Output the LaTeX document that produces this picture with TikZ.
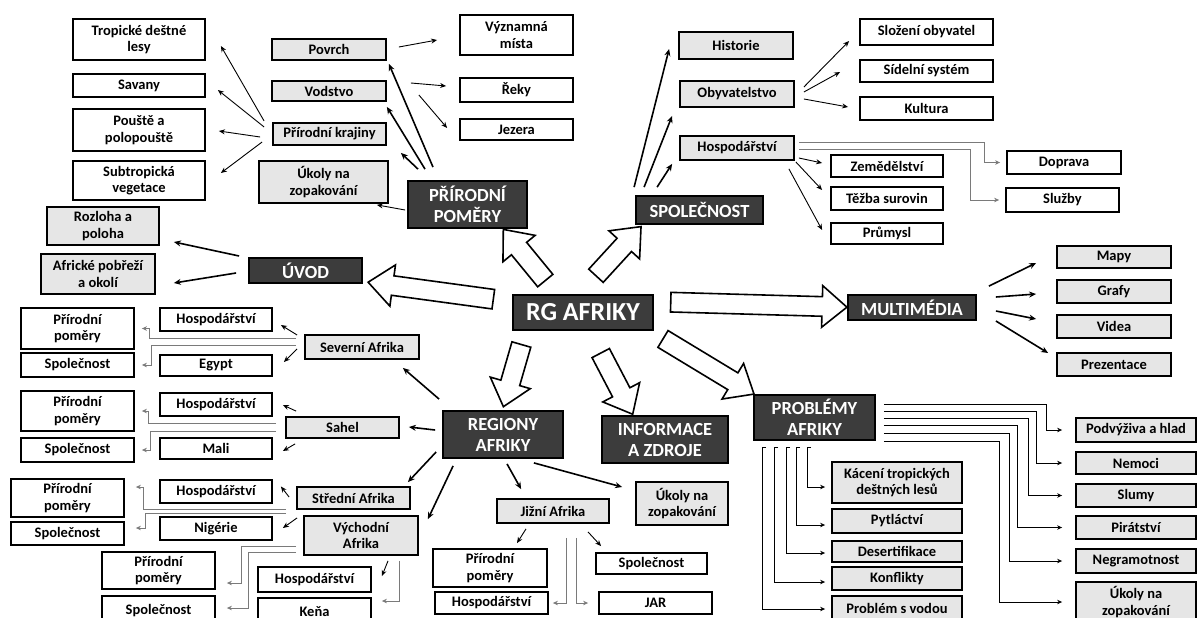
\documentclass[tikz,border=0pt]{standalone}
\usepackage{fontspec}
\setmainfont{Carlito}
\usetikzlibrary{arrows.meta,shapes.arrows,calc}
\definecolor{boxgray}{HTML}{E6E6E6}
\definecolor{darkbox}{HTML}{3C3C3C}
\definecolor{elbgray}{HTML}{7A7A7A}
\tikzset{
  box/.style={draw=black, line width=1.8pt, inner sep=1pt, align=center,
    font=\fontsize{14.5}{16.5}\selectfont\bfseries},
  wbox/.style={box, fill=white},
  gbox/.style={box, fill=boxgray},
  dbox/.style={box, fill=darkbox, text=white, font=\fontsize{18.5}{21}\selectfont\bfseries},
  arr/.style={-{Stealth[length=6pt,width=5pt]}, line width=0.9pt},
  arrb/.style={-{Stealth[length=7pt,width=6pt]}, line width=1.6pt},
  elb/.style={-{Stealth[length=5pt,width=4.5pt]}, line width=1pt, draw=elbgray},
  elbk/.style={elb, draw=black},
  fat/.style={single arrow, draw=black, line width=1.6pt, fill=white, inner xsep=0pt,
    inner ysep=9pt, single arrow head extend=11pt, single arrow tip angle=80}
}
\newcommand\fatarrow[2]{%
  \path let \p1=(#1), \p2=(#2), \n1={atan2(\y2-\y1,\x2-\x1)}, \n2={veclen(\x2-\x1,\y2-\y1)} in
    node[fat, minimum height=\n2, rotate=\n1] at ($(#1)!0.5!(#2)$) {};}
\begin{document}
\begin{tikzpicture}[x=1pt, y=-1pt]
\useasboundingbox (0,0) rectangle (1199,618);
% centre
\node[dbox, font=\fontsize{26}{30}\selectfont\bfseries, minimum width=140pt, minimum height=35pt] (rg) at (583,312.5) {RG AFRIKY};
% prirodni pomery
\node[dbox, minimum width=119pt, minimum height=47pt] (pp) at (467.5,204.5) {PŘÍRODNÍ\\POMĚRY};
\node[gbox, minimum width=114pt, minimum height=21pt] (povrch) at (329,49.5) {Povrch};
\node[gbox, minimum width=114pt, minimum height=20pt] (vod) at (329,91) {Vodstvo};
\node[gbox, minimum width=113pt, minimum height=22pt] (kraj) at (329.5,134) {Přírodní krajiny};
\node[gbox, minimum width=129pt, minimum height=42pt] (ukol1) at (323.5,182) {Úkoly na\\zopakování};
\node[wbox, minimum width=132pt, minimum height=41pt] (tdl) at (139,39.5) {Tropické deštné\\lesy};
\node[wbox, minimum width=132pt, minimum height=23pt] (sav) at (139,85.5) {Savany};
\node[wbox, minimum width=132pt, minimum height=42pt] (pou) at (139,130) {Pouště a\\polopouště};
\node[wbox, minimum width=132pt, minimum height=39pt] (sub) at (139,180.5) {Subtropická\\vegetace};
\node[wbox, minimum width=113pt, minimum height=40pt] (vyz) at (516.5,35) {Významná\\místa};
\node[wbox, minimum width=113pt, minimum height=24pt] (reky) at (516.5,90) {Řeky};
\node[wbox, minimum width=113pt, minimum height=21pt] (jez) at (516.5,129.5) {Jezera};
% spolecnost
\node[dbox, minimum width=127pt, minimum height=28pt] (spol) at (699.5,210) {SPOLEČNOST};
\node[gbox, minimum width=114pt, minimum height=27pt] (hist) at (736,45.5) {Historie};
\node[gbox, minimum width=114pt, minimum height=26pt] (obyv) at (737,94) {Obyvatelstvo};
\node[gbox, minimum width=114pt, minimum height=24pt] (hosp) at (737,148) {Hospodářství};
\node[wbox, minimum width=133pt, minimum height=26pt] (slo) at (926.5,32) {Složení obyvatel};
\node[wbox, minimum width=133pt, minimum height=22pt] (sid) at (926.5,71) {Sídelní systém};
\node[wbox, minimum width=133pt, minimum height=23pt] (kul) at (926.5,108.5) {Kultura};
\node[wbox, minimum width=112pt, minimum height=22pt] (zem) at (887,166) {Zemědělství};
\node[wbox, minimum width=112pt, minimum height=23pt] (tez) at (887,198.5) {Těžba surovin};
\node[wbox, minimum width=112pt, minimum height=21pt] (pru) at (887,233.5) {Průmysl};
\node[wbox, minimum width=114pt, minimum height=23pt] (dop) at (1064,162.5) {Doprava};
\node[wbox, minimum width=113pt, minimum height=24pt] (slu) at (1062.5,200) {Služby};
% uvod
\node[dbox, minimum width=113pt, minimum height=25pt] (uvod) at (305.5,270.5) {ÚVOD};
\node[gbox, minimum width=112pt, minimum height=38pt] (roz) at (103,226) {Rozloha a\\poloha};
\node[gbox, minimum width=114pt, minimum height=40pt] (pob) at (98,274) {Africké pobřeží\\a okolí};
% multimedia
\node[dbox, minimum width=128pt, minimum height=25pt] (mm) at (912,307.5) {MULTIMÉDIA};
\node[gbox, minimum width=114pt, minimum height=22pt] (mapy) at (1114,257) {Mapy};
\node[gbox, minimum width=114pt, minimum height=23pt] (grafy) at (1114,291.5) {Grafy};
\node[gbox, minimum width=114pt, minimum height=23pt] (videa) at (1114,326.5) {Videa};
\node[gbox, minimum width=114pt, minimum height=23pt] (prez) at (1114,364.5) {Prezentace};
% regiony
\node[dbox, minimum width=120pt, minimum height=47pt] (reg) at (503,434.5) {REGIONY\\AFRIKY};
\node[gbox, minimum width=114pt, minimum height=24pt] (sev) at (362,347) {Severní Afrika};
\node[wbox, minimum width=112pt, minimum height=23pt] (sevh) at (216,319.5) {Hospodářství};
\node[wbox, minimum width=112pt, minimum height=21pt] (egy) at (216,365.5) {Egypt};
\node[wbox, minimum width=113pt, minimum height=41pt] (sevp) at (77.5,328.5) {Přírodní\\poměry};
\node[wbox, minimum width=113pt, minimum height=24pt] (sevs) at (77.5,365) {Společnost};
\node[gbox, minimum width=113pt, minimum height=21pt] (sah) at (342.5,427.5) {Sahel};
\node[wbox, minimum width=112pt, minimum height=23pt] (sahh) at (216,404.5) {Hospodářství};
\node[wbox, minimum width=112pt, minimum height=21pt] (mali) at (216,448.5) {Mali};
\node[wbox, minimum width=113pt, minimum height=40pt] (sahp) at (77.5,411) {Přírodní\\poměry};
\node[wbox, minimum width=113pt, minimum height=24pt] (sahs) at (77.5,450) {Společnost};
\node[gbox, minimum width=113pt, minimum height=22pt] (str) at (353.5,498) {Střední Afrika};
\node[wbox, minimum width=112pt, minimum height=23pt] (strh) at (216,491.5) {Hospodářství};
\node[wbox, minimum width=112pt, minimum height=23pt] (nig) at (216,528.5) {Nigérie};
\node[wbox, minimum width=113pt, minimum height=38pt] (strp) at (67.5,498) {Přírodní\\poměry};
\node[wbox, minimum width=113pt, minimum height=23pt] (strs) at (67.5,533.5) {Společnost};
\node[gbox, minimum width=114pt, minimum height=39pt] (vych) at (361,535.5) {Východní\\Afrika};
\node[wbox, minimum width=113pt, minimum height=25pt] (vychh) at (314.5,579.5) {Hospodářství};
\node[wbox, minimum width=113pt, minimum height=27pt] (kena) at (314.5,611.5) {Keňa};
\node[wbox, minimum width=113pt, minimum height=37pt] (vychp) at (158.5,570.5) {Přírodní\\poměry};
\node[wbox, minimum width=113pt, minimum height=29pt] (vychs) at (158.5,610.5) {Společnost};
\node[gbox, minimum width=112pt, minimum height=24pt] (jiz) at (553,511) {Jižní Afrika};
\node[gbox, minimum width=92pt, minimum height=43pt] (ukol2) at (682,503.5) {Úkoly na\\zopakování};
\node[wbox, minimum width=114pt, minimum height=38pt] (jizp) at (490,568) {Přírodní\\poměry};
\node[wbox, minimum width=111pt, minimum height=21pt] (jizs) at (651.5,563.5) {Společnost};
\node[wbox, minimum width=113pt, minimum height=22pt] (jizh) at (491.5,603) {Hospodářství};
\node[wbox, minimum width=113pt, minimum height=22pt] (jar) at (655.5,603) {JAR};
% informace
\node[dbox, minimum width=126pt, minimum height=47pt] (info) at (665,439.5) {INFORMACE\\A ZDROJE};
% problemy
\node[dbox, minimum width=121pt, minimum height=45pt] (prob) at (814.5,417.5) {PROBLÉMY\\AFRIKY};
\node[gbox, minimum width=130pt, minimum height=41pt] (kac) at (897,482.5) {Kácení tropických\\deštných lesů};
\node[gbox, minimum width=130pt, minimum height=24pt] (pyt) at (897,521) {Pytláctví};
\node[gbox, minimum width=130pt, minimum height=21pt] (des) at (897,551.5) {Desertifikace};
\node[gbox, minimum width=130pt, minimum height=23pt] (kon) at (897,578.5) {Konflikty};
\node[gbox, minimum width=130pt, minimum height=24pt] (vod2) at (897,608) {Problém s vodou};
\node[gbox, minimum width=120pt, minimum height=24pt] (podv) at (1136,430) {Podvýživa a hlad};
\node[gbox, minimum width=120pt, minimum height=22pt] (nem) at (1136,463) {Nemoci};
\node[gbox, minimum width=120pt, minimum height=23pt] (slum) at (1136,495.5) {Slumy};
\node[gbox, minimum width=120pt, minimum height=23pt] (pir) at (1136,527.5) {Pirátství};
\node[gbox, minimum width=120pt, minimum height=24pt] (negr) at (1136,561) {Negramotnost};
\node[gbox, minimum width=120pt, minimum height=40pt] (ukol3) at (1136,602) {Úkoly na\\zopakování};
% big arrows from the centre
\coordinate (t1) at ([shift={(-34,-9)}]rg.north);
\coordinate (h1) at ([shift={(39.5,5)}]pp.south);
\coordinate (t2) at ([shift={(9,-14)}]rg.north);
\coordinate (h2) at ([shift={(2,6)}]spol.south west);
\coordinate (t3) at ([shift={(-13,-12.5)}]rg.west);
\coordinate (h3) at ([shift={(11,12.5)}]uvod.east);
\coordinate (t4) at ([shift={(11,-10.5)}]rg.east);
\coordinate (h4) at ([shift={(-6,-0.5)}]mm.west);
\coordinate (t5) at ([shift={(-60,8)}]rg.south);
\coordinate (h5) at ([shift={(2,-9)}]reg.north);
\coordinate (t6) at ([shift={(15,17)}]rg.south);
\coordinate (h6) at ([shift={(-35,-6)}]info.north);
\coordinate (t7) at ([shift={(4,5)}]rg.south east);
\coordinate (h7) at ([shift={(-4,-3)}]prob.north west);
\foreach \i in {1,...,7} {\fatarrow{t\i}{h\i}}
% prirodni pomery arrows
\draw[arrb] ([shift={(-34.5,-13)}]pp.north) -- ([shift={(2,3)}]povrch.south east);
\draw[arrb] ([shift={(-42.5,-11)}]pp.north) -- ([shift={(0,5)}]vod.south east);
\draw[arrb] ([shift={(-49.5,-11)}]pp.north) -- ([shift={(14,7)}]kraj.south east);
\draw[arr] ([shift={(-2,5.5)}]pp.west) -- ([shift={(-12,1)}]ukol1.south east);
\draw[arr] ([shift={(12,-2.5)}]povrch.east) -- ([shift={(-22,5)}]vyz.west);
\draw[arr] ([shift={(24,-8)}]vod.east) -- ([shift={(-13,-4)}]reky.west);
\draw[arr] ([shift={(32,4)}]vod.east) -- ([shift={(-12,-1.5)}]jez.west);
\draw[arr] ([shift={(-8,-13)}]kraj.west) -- ([shift={(15,6.5)}]tdl.east);
\draw[arr] ([shift={(-8,-7)}]kraj.west) -- ([shift={(12,4.5)}]sav.east);
\draw[arr] ([shift={(-12,3)}]kraj.west) -- ([shift={(13,1)}]pou.east);
\draw[arr] ([shift={(-10,8)}]kraj.west) -- ([shift={(15,-7.5)}]sub.east);
% spolecnost arrows
\draw[arrb] ([shift={(-1,-8)}]spol.north west) -- ([shift={(-9,3.5)}]hist.west);
\draw[arrb] ([shift={(9,-8)}]spol.north west) -- ([shift={(-7,8)}]obyv.south west);
\draw[arrb] ([shift={(22,-8)}]spol.north west) -- ([shift={(-7,3)}]hosp.south west);
\draw[arr] ([shift={(9,-7)}]obyv.east) -- ([shift={(-10,9)}]slo.west);
\draw[arr] ([shift={(9,-2)}]obyv.east) -- ([shift={(-19,1)}]sid.west);
\draw[arr] ([shift={(9,5)}]obyv.east) -- ([shift={(-11,-1.5)}]kul.west);
\draw[arr] ([shift={(4,10)}]hosp.east) -- ([shift={(-8,-3)}]zem.west);
\draw[arr] ([shift={(1,14)}]hosp.east) -- ([shift={(-8,-8.5)}]tez.west);
\draw[arr] ([shift={(-6,8)}]hosp.south east) -- ([shift={(-8,-3.5)}]pru.west);
\draw[elb, shorten >=6pt] ([shift={(4,-6)}]hosp.east) -| ([xshift=-22pt]dop.west) -- (dop.west);
\draw[elb, shorten >=6pt] ([shift={(4,1)}]hosp.east) -| ([xshift=-35pt]slu.west) -- (slu.west);
% uvod arrows
\draw[arrb] ([shift={(-9,-14.5)}]uvod.west) -- ([shift={(14,16)}]roz.east);
\draw[arrb] ([shift={(-12,2.5)}]uvod.west) -- ([shift={(18,9)}]pob.east);
% multimedia arrows
\draw[arrb] ([shift={(12,-8)}]mm.north east) -- ([shift={(-20,6)}]mapy.west);
\draw[arrb] ([shift={(19,-10.5)}]mm.east) -- ([shift={(-20,2.5)}]grafy.west);
\draw[arrb] ([shift={(19,3.5)}]mm.east) -- ([shift={(-20,-7.5)}]videa.west);
\draw[arrb] ([shift={(19,13.5)}]mm.east) -- ([shift={(-8,-11.5)}]prez.west);
% regiony arrows
\draw[arrb] ([shift={(-3,-11)}]reg.north west) -- ([shift={(-17,8)}]sev.south east);
\draw[arrb] ([shift={(-7,-4.5)}]reg.west) -- ([shift={(9,-0.5)}]sah.east);
\draw[arrb] ([shift={(-6,17.5)}]reg.west) -- ([shift={(-3,-4)}]str.north east);
\draw[arrb] ([shift={(11,7)}]reg.south west) -- ([shift={(9,4)}]vych.north east);
\draw[arrb] ([shift={(4,5)}]reg.south) -- ([shift={(25,-9)}]jiz.north west);
\draw[arrb] ([shift={(-30,4)}]reg.south east) -- ([shift={(-13,-16.5)}]ukol2.west);
% severni afrika
\draw[arr] ([shift={(-7,-12)}]sev.west) -- ([shift={(8,5.5)}]sevh.east);
\draw[arr] ([shift={(-7,2)}]sev.west) -- ([shift={(11,-3.5)}]egy.east);
\draw[elb, shorten >=7pt] ([shift={(-8,-9)}]sev.west) -| ([xshift=15pt]sevp.east) -- (sevp.east);
\draw[elb, shorten >=7pt] ([shift={(-8,-2)}]sev.west) -| ([xshift=17pt]sevs.east) -- (sevs.east);
% sahel
\draw[arr] ([shift={(11,-5)}]sah.north west) -- ([shift={(10,0.5)}]sahh.east);
\draw[arr] ([shift={(10,5)}]sah.south west) -- ([shift={(10,2.5)}]mali.east);
\draw[elb, shorten >=7pt] ([shift={(-9,-4.5)}]sah.west) -| ([xshift=14pt]sahp.east) -- (sahp.east);
\draw[elb, shorten >=7pt] ([shift={(-9,3.5)}]sah.west) -| ([xshift=16pt]sahs.east) -- (sahs.east);
% stredni afrika
\draw[arr] ([shift={(-7,-1)}]str.west) -- ([shift={(8,-5)}]strh.east);
\draw[arr] ([shift={(1,8)}]str.south west) -- ([shift={(10,-0.5)}]nig.east);
\draw[elb, shorten >=11pt] ([shift={(-10,11)}]str.west) -| ([shift={(19,-11)}]strp.east) -- ([shift={(0,-11)}]strp.east);
\draw[elb, shorten >=11pt] ([shift={(-10,15)}]str.west) -| ([shift={(21,-5.5)}]strs.east) -- ([shift={(0,-5.5)}]strs.east);
% vychodni afrika
\draw[elb, shorten >=11pt] ([shift={(-7,10.5)}]vych.west) -| ([shift={(26,12.5)}]vychp.east) -- ([shift={(0,12.5)}]vychp.east);
\draw[elb, shorten >=11pt] ([shift={(-7,16.5)}]vych.west) -| ([shift={(33,-2.5)}]vychs.east) -- ([shift={(0,-2.5)}]vychs.east);
\draw[arr] ([shift={(27,5)}]vych.south) -- ([shift={(10,10)}]vychh.north east);
\draw[elb, shorten >=10pt] ([shift={(38,5)}]vych.south) |- ([shift={(0,-10.5)}]kena.east);
% jizni afrika
\draw[arr] ([shift={(-27,5)}]jiz.south) -- ([shift={(27,-5)}]jizp.north);
\draw[arr] ([shift={(35,8)}]jiz.south) -- ([shift={(6,-6)}]jizs.north west);
\draw[elb, shorten >=4pt] ([shift={(13,14)}]jiz.south) |- (jizh.east);
\draw[elb, shorten >=10pt] ([shift={(23,14)}]jiz.south) |- (jar.west);
% problemy afriky
\foreach \dy/\cx/\t in {-13.5/29/podv, -6.5/39/nem, 0.5/47/slum, 7.5/58/pir, 15.5/66/negr, 23.5/76/ukol3}
  \draw[elbk, shorten >=13pt] ([shift={(8,\dy)}]prob.east) -| ([xshift=-\cx pt]\t.west) -- (\t.west);
\foreach \dx/\t/\dy in {54/kac/4.5, 43/pyt/4, 33/des/1.5, 21/kon/3.5, 9/vod2/1}
  \draw[elbk, shorten >=6pt] ([shift={(\dx+4,7)}]prob.south west) -- ++(-4,0) |- ([shift={(0,\dy)}]\t.west);
\end{tikzpicture}
\end{document}
